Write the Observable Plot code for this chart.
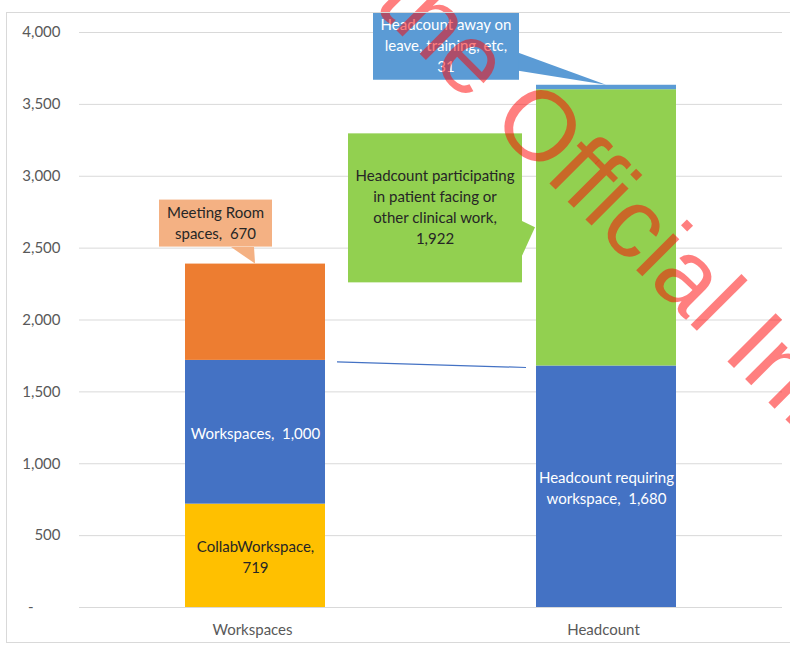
<!DOCTYPE html>
<html><head><meta charset="utf-8">
<script src="https://cdn.jsdelivr.net/npm/d3@7"></script>
<script src="https://cdn.jsdelivr.net/npm/@observablehq/plot@0.6"></script>
<style>
body{margin:0;background:#fff;}
#wrap{position:relative;width:790px;height:646px;overflow:hidden;background:#fff;}
#wrap svg{position:absolute;left:0;top:0;overflow:hidden;}
#border{position:absolute;left:6px;top:12px;width:800px;height:631px;border:1px solid #d9d9d9;box-sizing:border-box;pointer-events:none;}
</style></head><body><div id="wrap"><div id="border"></div></div>
<script>
// ---- data ----
const categories = ["Workspaces", "Headcount"];
const workspaceSeries = ["CollabWorkspace", "Workspaces", "Meeting Room spaces"];
const workspaceValues = [719, 1000, 670];
const workspaceLabels = ["CollabWorkspace,\n719", "Workspaces,  1,000", "Meeting Room\nspaces,  670"];
const headcountSeries = ["Headcount requiring workspace", "Headcount participating in patient facing or other clinical work", "Headcount away on leave, training, etc"];
const headcountValues = [1680, 1922, 31];
const headcountLabels = ["Headcount requiring\nworkspace,  1,680", "Headcount participating\nin patient facing or\nother clinical work,\n1,922", "Headcount away on\nleave, training, etc,\n31"];
const yTicks = [0, 500, 1000, 1500, 2000, 2500, 3000, 3500, 4000];
const watermarkText = "the Official Information Act";

// ---- styles ----
const seriesColors = ["#FFC000", "#4472C4", "#ED7D31", "#4472C4", "#92D050", "#5B9BD5"];
const FONT = "Lato";
const FS = 15;

// build table
const rows = [];
[[workspaceSeries, workspaceValues, workspaceLabels], [headcountSeries, headcountValues, headcountLabels]].forEach(([s, v, l], ci) => {
  let acc = 0;
  s.forEach((name, i) => {
    rows.push({cat: categories[ci], series: name, value: v[i], label: l[i], idx: i, base: acc, top: acc + v[i]});
    acc += v[i];
  });
});
const allSeries = rows.map(d => d.series);

// inside labels: which rows and colour
const insideDark = new Set(["CollabWorkspace"]);
const insideWhite = new Set(["Workspaces", "Headcount requiring workspace"]);

const plot = Plot.plot({
  width: 790, height: 646,
  marginLeft: 79, marginRight: 8, marginTop: 32, marginBottom: 39,
  style: {fontFamily: FONT, fontSize: FS + "px", background: "transparent"},
  x: {domain: categories, paddingInner: 0.6, paddingOuter: 0.3, label: null},
  y: {domain: [0, 4000], label: null},
  color: {domain: allSeries, range: seriesColors},
  marks: [
    Plot.gridY(yTicks, {stroke: "#d9d9d9", strokeOpacity: 1, strokeWidth: 1}),
    Plot.axisY(yTicks, {tickSize: 0, tickPadding: 19, fill: "#595959", fontSize: FS,
      tickFormat: d => d === 0 ? "-\u00a0\u00a0\u00a0\u00a0\u00a0\u00a0\u00a0" : d3.format(",")(d)}),
    Plot.axisX({tickSize: 0, tickPadding: 17, fill: "#595959", fontSize: FS, dx: -3}),
    Plot.barY(rows, {x: "cat", y: "value", fill: "series"}),
    Plot.text(rows, Plot.stackY({x: "cat", y: "value", text: d => insideDark.has(d.series) ? d.label : "", fill: "#262626", fontSize: FS, lineHeight: 1.4})),
    Plot.text(rows, Plot.stackY({x: "cat", y: "value", text: d => insideWhite.has(d.series) ? d.label : "", fill: "#ffffff", fontSize: FS, lineHeight: 1.4}))
  ]
});
document.getElementById("wrap").insertBefore(plot, document.getElementById("border"));

// ---- annotations positioned with the plot's scales ----
const xs = plot.scale("x"), ys = plot.scale("y");
const bw = xs.bandwidth;
const X = c => xs.apply(c), Y = v => ys.apply(v);
const svg = d3.select(plot);
const g = svg.append("g").attr("font-family", FONT).attr("font-size", FS);

// series line between the top of the blue segments
const wsBlue = rows.find(d => d.cat === "Workspaces" && d.idx === 1);
const hcBlue = rows.find(d => d.cat === "Headcount" && d.idx === 0);
g.append("line")
  .attr("x1", X("Workspaces") + bw + 12).attr("y1", Y(wsBlue.top) + 2)
  .attr("x2", X("Headcount") - 10).attr("y2", Y(hcBlue.top) + 2)
  .attr("stroke", "#4472C4").attr("stroke-width", 1.2);

// callouts: [row, anchor, box offsets (x,y,w,h), pointer base offsets, fill, text colour]
const calloutSpecs = [
  {cat: "Workspaces", idx: 2, anchor: "top", box: [-96, -64, 113, 47], ptr: [[-24, -16.5], [-1, -16.5]], fill: "#F4B183", color: "#262626"},
  {cat: "Headcount", idx: 2, anchor: "top", box: [-233, -72, 146, 67], ptr: [[-87.5, -32], [-87.5, -14]], fill: "#5B9BD5", color: "#ffffff"},
  {cat: "Headcount", idx: 1, anchor: "leftmid", box: [-187, -94, 174, 149], ptr: [[-13.5, -6.5], [-13.5, 29.5]], fill: "#92D050", color: "#262626"}
];
calloutSpecs.forEach(s => {
  const r = rows.find(d => d.cat === s.cat && d.idx === s.idx);
  const tx = s.anchor === "top" ? X(s.cat) + bw / 2 : X(s.cat) - 1;
  const ty = s.anchor === "top" ? Y(r.top) : Y((r.base + r.top) / 2);
  const [bx, by, w, h] = s.box;
  g.append("rect").attr("x", tx + bx).attr("y", ty + by).attr("width", w).attr("height", h).attr("fill", s.fill);
  g.append("path").attr("d", `M${tx + s.ptr[0][0]},${ty + s.ptr[0][1]}L${tx},${ty}L${tx + s.ptr[1][0]},${ty + s.ptr[1][1]}Z`).attr("fill", s.fill);
  const lines = r.label.split("\n");
  const cx = tx + bx + w / 2, cy = ty + by + h / 2;
  const t = g.append("text").attr("text-anchor", "middle").attr("fill", s.color);
  lines.forEach((ln, i) => {
    t.append("tspan").attr("x", cx).attr("y", cy + (i - (lines.length - 1) / 2) * 21 + 5).text(ln);
  });
});

// watermark
svg.append("text")
  .attr("transform", "translate(372,6) rotate(45)")
  .attr("text-anchor", "start")
  .attr("font-family", "Liberation Sans").attr("font-size", 99)
  .attr("fill", "#ff0000").attr("fill-opacity", 0.5)
  .text(watermarkText);
</script></body></html>
